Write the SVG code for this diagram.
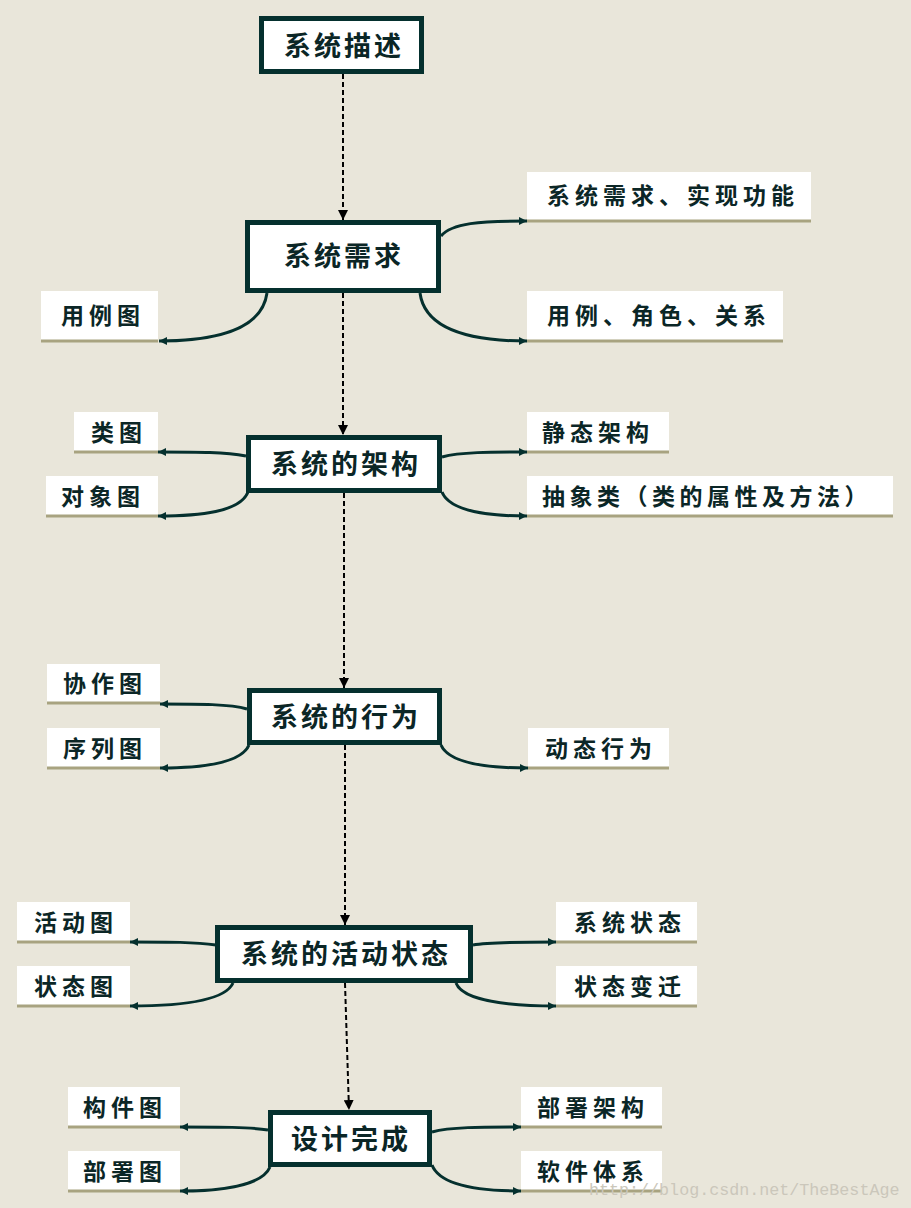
<svg xmlns="http://www.w3.org/2000/svg" width="911" height="1208" viewBox="0 0 911 1208">
<style>
.bg{fill:#E9E6DA}
.box{fill:#ffffff;stroke:#05302e;stroke-width:5}
.bt{font-family:"Noto Sans CJK SC","Noto Sans",sans-serif;font-size:27px;font-weight:bold;fill:#0b2626;letter-spacing:3px}
.lb{fill:#ffffff}
.ul{fill:#a8a380}
.lt{font-family:"Noto Sans CJK SC","Noto Sans",sans-serif;font-size:23px;font-weight:bold;fill:#0b2626;letter-spacing:5px}
.cv{fill:none;stroke:#05302e;stroke-width:3;marker-end:url(#ah)}
.ds{fill:none;stroke:#000000;stroke-width:2;stroke-dasharray:5,3;marker-end:url(#dh)}
.wm{font-family:"Liberation Mono",monospace;font-size:16.7px;fill:#cbc7bb}
</style>
<defs>
<marker id="ah" markerUnits="userSpaceOnUse" markerWidth="8" markerHeight="8" refX="8" refY="4" orient="auto">
<path d="M0,0 L8,4 L0,8 z" fill="#05302e"/>
</marker>
<marker id="dh" markerUnits="userSpaceOnUse" markerWidth="10" markerHeight="10" refX="10" refY="5" orient="auto">
<path d="M0,0 L10,5 L0,10 z" fill="#000000"/>
</marker>
</defs>
<rect class="bg" x="0" y="0" width="911" height="1208"/>

<g id="connectors">
<path class="ds" d="M343,74 L343,220"/>
<path class="ds" d="M343,293 L343,435"/>
<path class="ds" d="M344,493 L344,688"/>
<path class="ds" d="M345,745 L345,925"/>
<path class="ds" d="M345,983 L349,1110"/>

<path class="cv" d="M441,236 C452,223 480,221 527,221"/>
<path class="cv" d="M420,293 C425,330 470,341 527,341"/>
<path class="cv" d="M267,293 C262,330 215,341 159,341"/>

<path class="cv" d="M246,456 C225,452 200,452 158,452"/>
<path class="cv" d="M248,492 C240,512 200,516 158,516"/>
<path class="cv" d="M442,457 C460,452 490,452 527,452"/>
<path class="cv" d="M442,492 C450,512 490,516 527,516"/>

<path class="cv" d="M247,709 C230,704 200,704 160,704"/>
<path class="cv" d="M249,745 C241,764 200,768 160,768"/>
<path class="cv" d="M441,745 C449,764 490,768 528,768"/>

<path class="cv" d="M216,945 C195,942 170,942 130,942"/>
<path class="cv" d="M233,983 C225,1001 180,1006 130,1006"/>
<path class="cv" d="M473,945 C490,942 520,942 556,942"/>
<path class="cv" d="M456,983 C463,1001 510,1006 556,1006"/>

<path class="cv" d="M268,1130 C250,1127 220,1127 180,1127"/>
<path class="cv" d="M270,1167 C262,1186 220,1191 180,1191"/>
<path class="cv" d="M432,1132 C450,1127 480,1127 521,1127"/>
<path class="cv" d="M432,1165 C440,1186 480,1191 521,1191"/>
</g>

<g id="n-desc"><rect class="box" x="261.5" y="18.5" width="160" height="53"/><text class="bt" x="284" y="55.5">系统描述</text></g>
<g id="n-req"><rect class="box" x="247.5" y="222.5" width="191" height="68"/><text class="bt" x="284" y="266">系统需求</text></g>
<g id="n-arch"><rect class="box" x="248.5" y="437.5" width="191" height="53"/><text class="bt" x="271" y="473.5">系统的架构</text></g>
<g id="n-beh"><rect class="box" x="249.5" y="690.5" width="190" height="52"/><text class="bt" x="271" y="726.5">系统的行为</text></g>
<g id="n-act"><rect class="box" x="217.5" y="927.5" width="253" height="53"/><text class="bt" x="241" y="963.5">系统的活动状态</text></g>
<g id="n-done"><rect class="box" x="270.5" y="1112.5" width="159" height="52"/><text class="bt" x="291" y="1148.5">设计完成</text></g>

<g id="l-func"><rect class="lb" x="527" y="172" width="284" height="48"/><rect class="ul" x="527" y="219.5" width="284" height="3"/><text class="lt" x="547" y="203.5">系统需求、实现功能</text></g>
<g id="l-usecase"><rect class="lb" x="527" y="291" width="256" height="49"/><rect class="ul" x="527" y="339.5" width="256" height="3"/><text class="lt" x="547" y="323.5">用例、角色、关系</text></g>
<g id="l-ucd"><rect class="lb" x="41" y="291" width="117" height="49"/><rect class="ul" x="41" y="339.5" width="117" height="3"/><text class="lt" x="61" y="323.5">用例图</text></g>

<g id="l-class"><rect class="lb" x="74" y="412" width="84" height="39"/><rect class="ul" x="74" y="450.5" width="84" height="3"/><text class="lt" x="91" y="440.5">类图</text></g>
<g id="l-obj"><rect class="lb" x="46" y="476" width="112" height="39"/><rect class="ul" x="46" y="514.5" width="112" height="3"/><text class="lt" x="61" y="504.5">对象图</text></g>
<g id="l-static"><rect class="lb" x="527" y="412" width="142" height="39"/><rect class="ul" x="527" y="450.5" width="142" height="3"/><text class="lt" x="542" y="440.5">静态架构</text></g>
<g id="l-abs"><rect class="lb" x="527" y="476" width="366" height="39"/><rect class="ul" x="527" y="514.5" width="366" height="3"/><text class="lt" x="542" y="504.5" style="letter-spacing:4.5px">抽象类（类的属性及方法）</text></g>

<g id="l-collab"><rect class="lb" x="47" y="664" width="113" height="38"/><rect class="ul" x="47" y="701.5" width="113" height="3"/><text class="lt" x="63" y="691.5">协作图</text></g>
<g id="l-seq"><rect class="lb" x="47" y="728" width="113" height="39"/><rect class="ul" x="47" y="766.5" width="113" height="3"/><text class="lt" x="63" y="756.5">序列图</text></g>
<g id="l-dyn"><rect class="lb" x="528" y="728" width="141" height="39"/><rect class="ul" x="528" y="766.5" width="141" height="3"/><text class="lt" x="545" y="756.5">动态行为</text></g>

<g id="l-actd"><rect class="lb" x="17" y="902" width="113" height="39"/><rect class="ul" x="17" y="940.5" width="113" height="3"/><text class="lt" x="34" y="930.5">活动图</text></g>
<g id="l-std"><rect class="lb" x="17" y="966" width="113" height="39"/><rect class="ul" x="17" y="1004.5" width="113" height="3"/><text class="lt" x="34" y="994.5">状态图</text></g>
<g id="l-sysst"><rect class="lb" x="556" y="902" width="141" height="39"/><rect class="ul" x="556" y="940.5" width="141" height="3"/><text class="lt" x="574" y="930.5">系统状态</text></g>
<g id="l-trans"><rect class="lb" x="556" y="966" width="141" height="39"/><rect class="ul" x="556" y="1004.5" width="141" height="3"/><text class="lt" x="574" y="994.5">状态变迁</text></g>

<g id="l-comp"><rect class="lb" x="68" y="1087" width="112" height="39"/><rect class="ul" x="68" y="1125.5" width="112" height="3"/><text class="lt" x="83" y="1115.5">构件图</text></g>
<g id="l-depd"><rect class="lb" x="68" y="1151" width="112" height="39"/><rect class="ul" x="68" y="1189.5" width="112" height="3"/><text class="lt" x="83" y="1179.5">部署图</text></g>
<g id="l-deparch"><rect class="lb" x="521" y="1087" width="141" height="39"/><rect class="ul" x="521" y="1125.5" width="141" height="3"/><text class="lt" x="537" y="1115.5">部署架构</text></g>
<g id="l-soft"><rect class="lb" x="521" y="1151" width="141" height="39"/><rect class="ul" x="521" y="1189.5" width="141" height="3"/><text class="lt" x="537" y="1179.5">软件体系</text></g>

<text class="wm" x="589" y="1195">http://blog.csdn.net/TheBestAge</text>
</svg>
